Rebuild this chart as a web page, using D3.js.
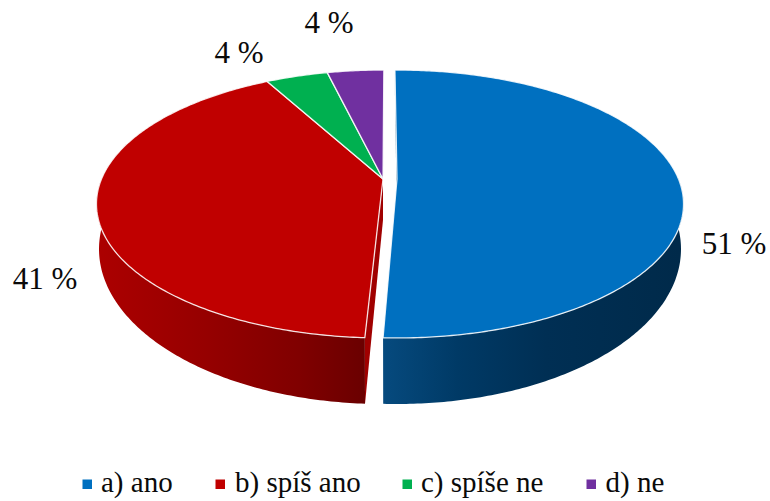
<!DOCTYPE html>
<html><head><meta charset="utf-8">
<script src="https://cdn.jsdelivr.net/npm/d3@7"></script>
<style>html,body{margin:0;padding:0;background:#fff}svg{display:block}</style>
</head><body><div id="c"></div>
<script>
const categories = ["a) ano", "b) spíš ano", "c) spíše ne", "d) ne"];
const values = [50.78, 41.22, 4.19, 3.81];
const colors = ["#0070C0", "#C00000", "#00B050", "#7030A0"];

const W = 770, H = 501;
const K = 0.1866;
const topDisc = { R: 281.5, V: 129.3, cy: 179 };
const botDisc = { R: 279, V: 149.6, cy: 220.1 };
const groupCX = i => i === 0 ? 397 : 383;
const deg = Math.PI / 180;
const rotate = i => i === 0 ? -0.5 * deg : 0.2 * deg;

const svg = d3.select("#c").append("svg").attr("width", W).attr("height", H);
const defs = svg.append("defs");

function grad(id, x1, x2, stops) {
  const g = defs.append("linearGradient").attr("id", id).attr("gradientUnits", "userSpaceOnUse")
    .attr("x1", x1).attr("x2", x2).attr("y1", 0).attr("y2", 0);
  stops.forEach(s => g.append("stop").attr("offset", s[0]).attr("stop-color", s[1]));
}
grad("side0", 383, 680, [[0, "#064a7e"], [0.25, "#003a66"], [0.55, "#002f54"], [1, "#002a4a"]]);
grad("side1", 97, 366, [[0, "#ac0000"], [0.4, "#960000"], [0.75, "#800000"], [1, "#6a0000"]]);

const arcs = d3.pie().sort(null).value(d => d)(values);

function project(a, r, i, disc) {
  const t = a + rotate(i);
  const x = r * Math.sin(t), y = -r * Math.cos(t);
  const w = 1 / (1 - K * y);
  return [groupCX(i) + disc.R * x * w, disc.cy + disc.V * y * w];
}
const line = d3.line().curve(d3.curveLinear);
const rim = (a0, a1, i, disc) => {
  const n = Math.max(2, Math.ceil((a1 - a0) * 90));
  return d3.range(n + 1).map(k => project(a0 + (a1 - a0) * k / n, 1, i, disc));
};

arcs.forEach((d, i) => {
  if (i > 1) return;
  const pts = [project(d.startAngle, 1, i, topDisc), project(0, 0, i, topDisc),
               project(0, 0, i, botDisc), project(d.startAngle, 1, i, botDisc)];
  svg.append("path").attr("d", line(pts) + "Z").attr("fill", i === 1 ? "#a00000" : "#2a5f80");
});

arcs.forEach((d, i) => {
  const a0 = Math.max(d.startAngle, Math.PI / 2), a1 = Math.min(d.endAngle, 3 * Math.PI / 2);
  if (a1 <= a0) return;
  const pts = rim(a0, a1, i, topDisc).concat(rim(a0, a1, i, botDisc).reverse());
  svg.append("path").attr("d", line(pts) + "Z").attr("fill", `url(#side${i})`);
});

arcs.forEach((d, i) => {
  const pts = [project(0, 0, i, topDisc)].concat(rim(d.startAngle, d.endAngle, i, topDisc));
  svg.append("path").attr("d", line(pts) + "Z").attr("fill", colors[i])
    .attr("stroke", "#fff").attr("stroke-opacity", 0.85).attr("stroke-width", 1.3).attr("stroke-linejoin", "round");
});

const serif = "'Liberation Serif', 'Times New Roman', serif";
const labelPos = [[734, 253.5], [45, 289], [239, 63], [329, 33]];
values.forEach((v, i) => {
  svg.append("text").attr("x", labelPos[i][0]).attr("y", labelPos[i][1]).attr("text-anchor", "middle")
    .style("font-family", serif).attr("fill", "#0a0a0a")
    .attr("font-size", 31).text(Math.round(v) + " %");
});

const swatchX = [82.5, 215.5, 402.5, 586.5], textX = [101, 235, 421, 605.5];
categories.forEach((c, i) => {
  svg.append("rect").attr("x", swatchX[i]).attr("y", 479.5).attr("width", 9.5).attr("height", 9.5).attr("fill", colors[i]);
  svg.append("text").attr("x", textX[i]).attr("y", 492).style("font-family", serif).attr("fill", "#0a0a0a")
    .attr("font-size", 29).text(c);
});
</script></body></html>
